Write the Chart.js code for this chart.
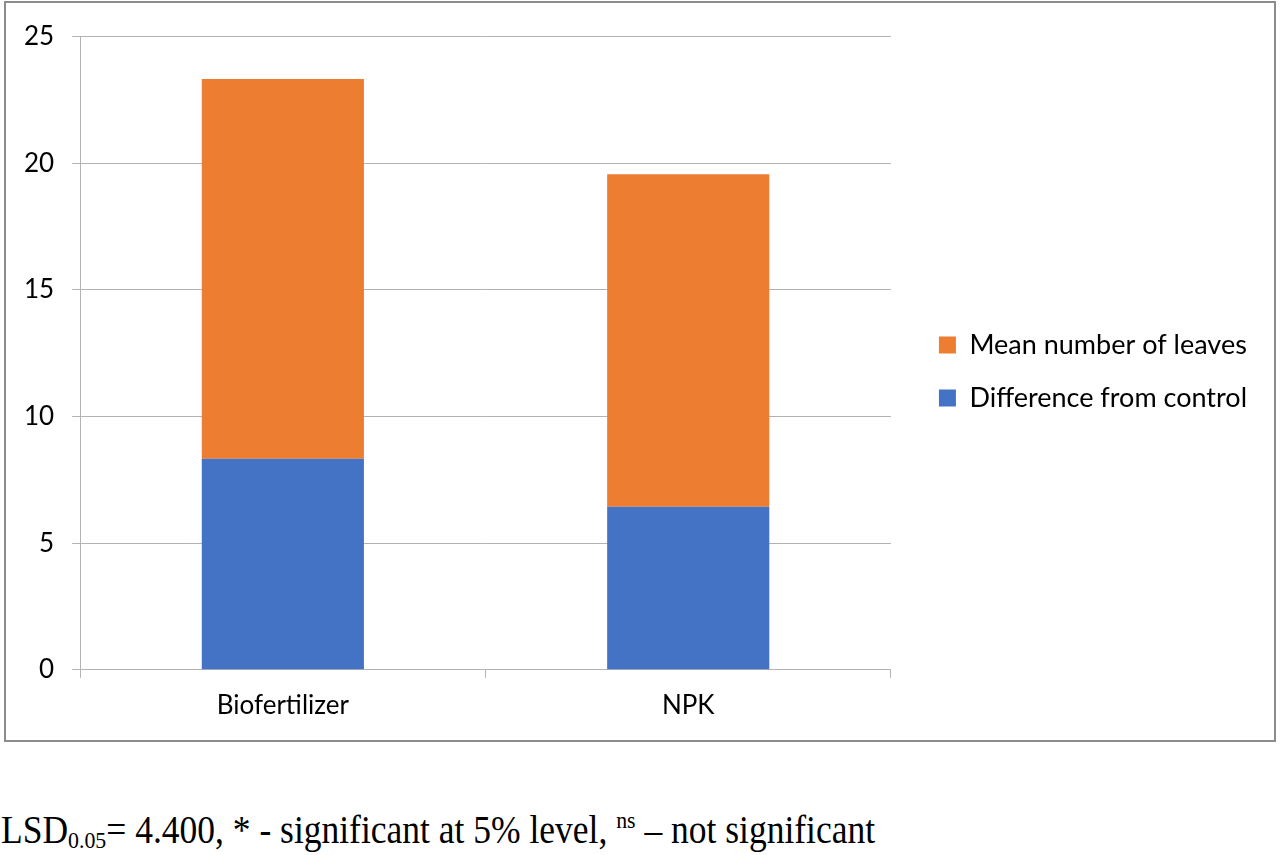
<!DOCTYPE html>
<html>
<head>
<meta charset="utf-8">
<script src="https://cdn.jsdelivr.net/npm/chart.js@4/dist/chart.umd.min.js"></script>
<style>
  body { margin: 0; background: #fff; width: 1280px; height: 855px; overflow: hidden; position: relative; }
  #frame { position: absolute; left: 4px; top: 1px; width: 1272px; height: 741px; box-sizing: border-box; border: 2px solid #8c8c8c; }
  #frame canvas { display: block; }
  #note { position: absolute; left: 1px; top: 808px; font-family: "Liberation Serif", "Times New Roman", serif; font-size: 39px; line-height: 1; color: #000; white-space: nowrap; transform-origin: 0 0; transform: scaleX(0.91); }
  #note sub, #note sup { font-size: 24px; }
  #note sub { vertical-align: -5px; }
  #note sup { vertical-align: 15px; }
</style>
</head>
<body>
<div id="frame"><canvas id="chart" width="1268" height="737"></canvas></div>
<div id="note">LSD<sub>0.05</sub>= 4.400, * - significant at 5% level, <sup>ns</sup> – not significant</div>
<script>
const categories = ["Biofertilizer", "NPK"]
const differenceFromControl = [8.33, 6.44]
const meanNumberOfLeaves = [15.0, 13.13]
const yTicks = [0, 5, 10, 15, 20, 25]

const gridGrey = '#b3b3b3'
const labelFont = { family: 'Lato', size: 26 }

const ctx = document.getElementById("chart").getContext("2d")
new Chart(ctx, {
    type: 'bar',
    data: {
        labels: categories,
        datasets: [{
            label: "Difference from control",
            data: differenceFromControl,
            backgroundColor: '#4472C4'
        }, {
            label: "Mean number of leaves",
            data: meanNumberOfLeaves,
            backgroundColor: '#ED7D31'
        }]
    },
    options: {
        responsive: false,
        animation: false,
        barPercentage: 0.5,
        categoryPercentage: 0.8,
        layout: { padding: { left: 0, top: 7, right: 17, bottom: 7 } },
        scales: {
            x: {
                stacked: true,
                grid: { offset: true, drawOnChartArea: false, tickLength: 8, color: gridGrey },
                border: { color: gridGrey },
                ticks: { color: '#000', font: labelFont, padding: 12 }
            },
            y: {
                stacked: true,
                min: 0,
                max: 25,
                afterBuildTicks: scale => { scale.ticks = yTicks.map(v => ({ value: v })) },
                grid: { color: gridGrey, tickLength: 8 },
                border: { color: gridGrey },
                ticks: { color: '#000', font: labelFont, padding: 18 }
            },
            gap: {
                position: 'right',
                grid: { display: false },
                border: { display: false },
                ticks: { display: false },
                afterFit: scale => { scale.width = 22 }
            }
        },
        plugins: {
            legend: {
                position: 'right',
                reverse: true,
                maxWidth: 420,
                labels: { color: '#000', font: { family: 'Lato', size: 27 }, boxWidth: 17, boxHeight: 17, padding: 26 }
            },
            tooltip: { enabled: false }
        }
    }
})
</script>
</body>
</html>
